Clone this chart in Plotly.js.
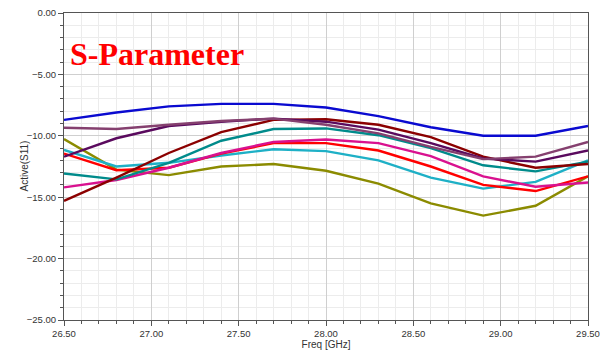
<!DOCTYPE html>
<html>
<head>
<meta charset="utf-8">
<script src="https://cdn.plot.ly/plotly-3.0.1.min.js"></script>
<style>html,body{margin:0;padding:0;background:#fff;}#chart{width:603px;height:353px;}</style>
</head>
<body>
<div id="chart"></div>
<script>
var freq = [26.5, 26.8, 27.1, 27.4, 27.7, 28.0, 28.3, 28.6, 28.9, 29.2, 29.5];

var sBlue    = [-8.7, -8.1, -7.6, -7.4, -7.4, -7.7, -8.4, -9.3, -10.0, -10.0, -9.2];
var sMauve   = [-9.35, -9.45, -9.1, -8.8, -8.6, -9.1, -9.8, -10.9, -11.9, -11.7, -10.5];
var sPurple  = [-11.7, -10.2, -9.2, -8.85, -8.6, -8.85, -9.5, -10.6, -11.85, -12.1, -11.2];
var sMaroon  = [-15.3, -13.4, -11.4, -9.7, -8.7, -8.65, -9.1, -10.1, -11.7, -12.6, -12.3];
var sTeal    = [-13.07, -13.55, -12.2, -10.4, -9.45, -9.4, -9.95, -11.0, -12.4, -12.9, -12.1];
var sMagenta = [-14.2, -13.6, -12.6, -11.4, -10.5, -10.3, -10.6, -11.65, -13.3, -14.15, -13.8];
var sRed     = [-11.45, -12.8, -12.6, -11.45, -10.6, -10.6, -11.2, -12.5, -14.0, -14.5, -13.3];
var sCyan    = [-11.15, -12.5, -12.2, -11.6, -11.1, -11.25, -12.0, -13.4, -14.3, -13.75, -12.0];
var sOlive   = [-10.27, -12.75, -13.2, -12.5, -12.3, -12.85, -13.9, -15.5, -16.5, -15.7, -13.3];

var series = [
  {y: sOlive,   color: '#8b8b00'},
  {y: sCyan,    color: '#1eb0c6'},
  {y: sRed,     color: '#ff0000'},
  {y: sMagenta, color: '#d9118f'},
  {y: sTeal,    color: '#008b8b'},
  {y: sMaroon,  color: '#8b0000'},
  {y: sPurple,  color: '#5a0a5e'},
  {y: sMauve,   color: '#85406f'},
  {y: sBlue,    color: '#0a0ad0'}
];

var traces = series.map(function(s){
  return {x: freq, y: s.y, type: 'scatter', mode: 'lines',
          line: {color: s.color, width: 2.4}, hoverinfo: 'skip', showlegend: false};
});

var labelFont = {family: 'Liberation Sans, Arial, sans-serif', size: 10, color: '#333'};

var axisCommon = {
  showline: true, linecolor: '#555', linewidth: 1, mirror: true,
  ticks: 'outside', ticklen: 5, tickcolor: '#555', tickwidth: 1,
  showgrid: true, gridcolor: '#cfcfcf', gridwidth: 1,
  zeroline: false,
  tickfont: {family: 'Liberation Sans, Arial, sans-serif', size: 9.5, color: '#333'},
  tickformat: '.2f'
};

var layout = {
  width: 603, height: 353,
  margin: {l: 64, r: 15, t: 13, b: 33},
  paper_bgcolor: '#fff', plot_bgcolor: '#fff',
  xaxis: Object.assign({}, axisCommon, {
    range: [26.5, 29.5], dtick: 0.5, tick0: 26.5,
    minor: {dtick: 0.1, showgrid: true, gridcolor: '#ececec', ticks: 'outside', ticklen: 3, tickcolor: '#555'},
    title: {text: 'Freq [GHz]', font: labelFont, standoff: 2}
  }),
  yaxis: Object.assign({}, axisCommon, {
    range: [-25, 0], dtick: 5, tick0: 0,
    minor: {dtick: 1, showgrid: true, gridcolor: '#ececec', ticks: 'outside', ticklen: 3, tickcolor: '#555'}
  }),
  annotations: [{
    text: 'S-Parameter', xref: 'paper', yref: 'paper', x: 0.008, y: 0.865,
    xanchor: 'left', yanchor: 'middle', showarrow: false,
    font: {family: 'Liberation Serif, Times New Roman, serif', size: 32, color: '#ff0000', weight: 'bold'}
  }, {
    text: 'Active(S11)', xref: 'paper', yref: 'paper', x: -0.0763, y: 0.5,
    xanchor: 'center', yanchor: 'middle', textangle: -90, showarrow: false,
    font: labelFont
  }]
};

Plotly.newPlot('chart', traces, layout, {displayModeBar: false, staticPlot: true});
</script>
</body>
</html>
